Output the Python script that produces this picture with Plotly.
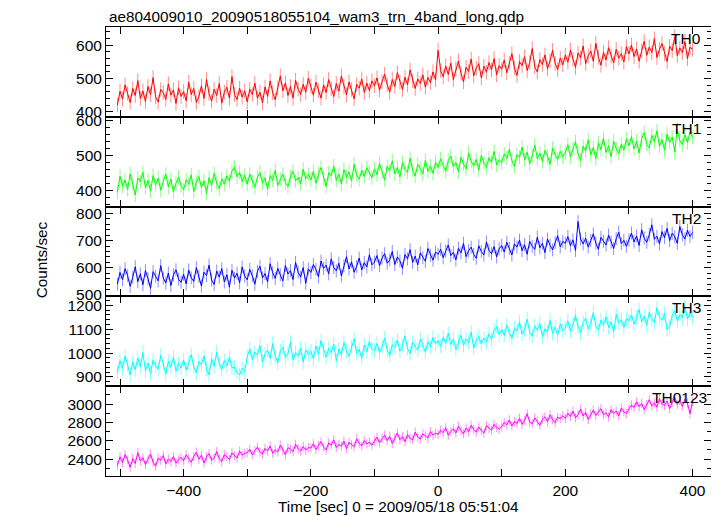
import numpy as np
import plotly.graph_objects as go
from plotly.subplots import make_subplots

# Time bins (seconds from 2009/05/18 05:51:04), 4 s bins
time_sec = np.arange(-504, 401, 4)

th0 = [420, 462, 438, 481, 455, 428, 470, 449, 494, 440, 463, 431, 476, 452, 503, 445, 429, 467, 458, 437, 484, 450, 466, 425, 472, 446,
       461, 433, 489, 452, 470, 428, 446, 478, 440, 497, 455, 432, 468, 449, 485, 426, 459, 474, 441, 506, 452, 437, 471, 444, 463,
       430, 468, 452, 486, 441, 459, 427, 475, 446, 493, 458, 436, 472, 508, 463, 487, 449, 476, 441, 495, 468, 452, 483, 459, 501,
       477, 450, 489, 463, 441, 481, 458, 497, 470, 446, 485, 462, 508, 475, 451, 490, 467, 439, 482, 471, 499, 458, 486, 464, 493,
       478, 502, 465, 491, 513, 482, 459, 497, 476, 518, 489, 467, 504, 481, 526, 493, 470, 499, 485, 511, 474, 503, 488, 520, 496,
       585, 524, 505, 538, 512, 546, 497, 529, 553, 516, 490, 534, 521, 559, 508, 531, 545, 502, 537, 519, 548, 526, 560, 511, 539,
       528, 556, 517, 547, 575, 532, 509, 551, 539, 566, 524, 548, 590, 535, 520, 557, 542, 571, 530, 553, 585, 546, 527, 562, 541,
       571, 549, 586, 558, 533, 577, 562, 598, 545, 569, 583, 552, 606, 564, 540, 579, 556, 593, 568, 547, 588, 561, 575, 550, 596,
       574, 601, 566, 589, 552, 583, 612, 570, 595, 578, 620, 563, 588, 605, 575, 551, 597, 584, 626, 569, 592, 578, 611, 560, 594,
       588]

th1 = [395, 441, 412, 430, 403, 448, 419, 387, 436, 425, 452, 408, 429, 398, 443, 417, 435, 401, 426, 447, 410, 433, 396, 421, 438, 414,
       402, 431, 418, 445, 397, 424, 440, 409, 428, 392, 437, 415, 449, 421, 405, 434, 418, 442, 427, 456, 468, 439, 452, 426, 444,
       418, 447, 425, 409, 438, 452, 421, 436, 404, 443, 429, 458, 415, 432, 447, 423, 411, 440, 455, 428, 437, 419, 461, 434, 446,
       430, 455, 421, 448, 466, 436, 412, 451, 442, 470, 429, 447, 419, 460, 438, 453, 427, 475, 444, 432, 458, 440, 465, 451, 437,
       462, 445, 478, 453, 430, 469, 457, 485, 448, 466, 439, 480, 461, 452, 492, 458, 441, 474, 463, 447, 487, 455, 470, 449, 481,
       466, 491, 472, 455, 486, 499, 468, 480, 453, 495, 476, 462, 507, 484, 470, 489, 458, 501, 479, 466, 494, 481, 512, 473, 488,
       480, 505, 492, 518, 486, 469, 503, 495, 524, 488, 510, 477, 499, 530, 491, 507, 483, 515, 498, 475, 521, 503, 489, 512, 496,
       508, 531, 496, 519, 540, 505, 486, 527, 514, 545, 502, 523, 491, 536, 517, 550, 509, 528, 497, 541, 520, 506, 533, 515, 548,
       528, 554, 519, 541, 507, 549, 566, 532, 522, 558, 540, 571, 527, 546, 515, 562, 538, 553, 510, 576, 543, 531, 560, 537, 568,
       552]

th2 = [540, 583, 556, 597, 571, 532, 565, 604, 549, 578, 538, 590, 560, 525, 586, 569, 552, 608, 563, 544, 581, 535, 574, 593, 558, 547,
       576, 541, 592, 563, 550, 601, 568, 533, 584, 572, 610, 555, 539, 588, 566, 597, 548, 575, 529, 591, 562, 580, 545, 603, 570,
       556, 594, 571, 540, 587, 606, 563, 579, 548, 615, 582, 561, 598, 574, 552, 609, 577, 590, 557, 620, 584, 566, 601, 543, 596,
       583, 612, 594, 567, 625, 598, 610, 578, 633, 601, 589, 617, 570, 608, 641, 596, 622, 584, 605, 636, 592, 619, 603, 648, 611,
       621, 645, 608, 636, 652, 617, 629, 660, 612, 640, 626, 598, 649, 633, 667, 620, 643, 611, 655, 637, 624, 671, 646, 628, 658,
       650, 668, 637, 661, 684, 645, 657, 629, 672, 655, 690, 641, 663, 676, 649, 635, 681, 660, 647, 695, 664, 652, 678, 640, 670,
       682, 658, 694, 671, 647, 688, 676, 702, 663, 685, 650, 697, 679, 668, 713, 674, 690, 656, 706, 683, 666, 692, 718, 677, 697,
       690, 715, 681, 703, 664, 770, 706, 688, 709, 676, 700, 725, 691, 668, 712, 698, 684, 720, 694, 671, 707, 731, 689, 701, 679,
       703, 728, 695, 717, 682, 740, 709, 694, 722, 758, 705, 716, 688, 733, 711, 745, 700, 727, 714, 690, 752, 721, 706, 738, 715,
       730]

th3 = [920, 968, 935, 987, 951, 908, 962, 930, 979, 943, 1002, 926, 958, 915, 972, 947, 932, 991, 955, 912, 966, 940, 983, 924, 957, 938,
       971, 929, 960, 994, 942, 917, 965, 951, 988, 934, 908, 976, 945, 1003, 958, 931, 969, 947, 982, 938, 941, 918, 909, 936, 921,
       985, 1018, 972, 1005, 991, 1032, 964, 997, 1012, 978, 1040, 988, 959, 1009, 1025, 981, 998, 1046, 970, 1003, 987, 1021, 962, 1014, 993,
       1008, 976, 1030, 995, 1052, 1012, 983, 1020, 1001, 1038, 968, 1017, 994, 1045, 1009, 987, 1026, 1060, 999, 1015, 978, 1033, 1006, 1049, 1019,
       1010, 1041, 1002, 1027, 1063, 1015, 990, 1036, 1024, 1055, 1008, 1032, 1071, 1019, 998, 1045, 1029, 1012, 1058, 1035, 1004, 1048, 1026, 1066, 1039,
       1052, 1028, 1067, 1041, 1083, 1036, 1058, 1014, 1049, 1075, 1032, 1060, 1044, 1089, 1021, 1054, 1070, 1038, 1063, 1046, 1081, 1057, 1096, 1112, 1078,
       1100, 1074, 1118, 1085, 1062, 1106, 1093, 1131, 1080, 1099, 1142, 1087, 1071, 1115, 1096, 1124, 1068, 1102, 1090, 1137, 1083, 1109, 1075, 1121, 1094,
       1105, 1134, 1092, 1120, 1158, 1111, 1086, 1128, 1147, 1101, 1123, 1170, 1114, 1097, 1139, 1118, 1152, 1107, 1131, 1089, 1162, 1125, 1140, 1108, 1145,
       1136, 1160, 1121, 1149, 1183, 1132, 1155, 1117, 1172, 1144, 1128, 1190, 1151, 1139, 1166, 1098, 1112, 1158, 1178, 1135, 1162, 1147, 1196, 1143, 1169,
       1150]

th0123 = [2330, 2425, 2362, 2448, 2391, 2310, 2406, 2352, 2470, 2378, 2415, 2340, 2398, 2455, 2367, 2322, 2410, 2386, 2439, 2348, 2401, 2372, 2428, 2355, 2393, 2418,
          2381, 2446, 2402, 2365, 2430, 2475, 2398, 2441, 2356, 2422, 2460, 2389, 2413, 2482, 2405, 2372, 2451, 2427, 2395, 2468, 2436, 2410, 2487, 2443, 2462,
          2470, 2508, 2445, 2492, 2530, 2478, 2455, 2517, 2488, 2542, 2463, 2501, 2476, 2553, 2495, 2448, 2524, 2507, 2480, 2561, 2512, 2489, 2536, 2498, 2527,
          2520, 2568, 2505, 2549, 2590, 2531, 2498, 2576, 2552, 2610, 2526, 2561, 2540, 2597, 2514, 2583, 2558, 2535, 2621, 2570, 2544, 2603, 2566, 2585, 2551,
          2596, 2640, 2578, 2625, 2662, 2601, 2648, 2570, 2633, 2686, 2612, 2645, 2590, 2668, 2627, 2610, 2695, 2642, 2618, 2675, 2655, 2630, 2700, 2661, 2683,
          2670, 2715, 2688, 2742, 2660, 2703, 2730, 2685, 2758, 2712, 2676, 2740, 2698, 2770, 2722, 2694, 2751, 2710, 2683, 2765, 2735, 2716, 2780, 2744, 2728,
          2752, 2800, 2773, 2828, 2761, 2810, 2790, 2845, 2779, 2822, 2896, 2803, 2786, 2850, 2815, 2768, 2835, 2862, 2808, 2883, 2829, 2797, 2858, 2840, 2874,
          2845, 2900, 2866, 2924, 2851, 2888, 2945, 2870, 2910, 2832, 2893, 2935, 2877, 2918, 2950, 2884, 2906, 2861, 2940, 2897, 2925, 2872, 2958, 2915, 2899,
          2948, 2990, 2963, 3025, 2972, 3008, 2940, 2995, 3048, 2980, 3015, 2966, 3060, 3002, 2985, 3035, 2950, 3020, 3072, 2998, 3040, 2975, 3055, 3012, 2895,
          3030]

band_names = ["TH0", "TH1", "TH2", "TH3", "TH0123"]
band_values = [th0, th1, th2, th3, th0123]
band_errors = [22, 20, 24, 30, 50]
y_ranges = [[385, 655], [354, 611], [495, 825], [861, 1238], [2215, 3196]]
y_major = [100, 100, 100, 100, 200]
y_minor = [20, 20, 20, 20, 100]

x_tickvals = [-500, -400, -300, -200, -100, 0, 100, 200, 300, 400]
x_ticktext = ["", "\u2212400", "", "\u2212200", "", "0", "", "200", "", "400"]

title_text = "ae804009010_20090518055104_wam3_trn_4band_long.qdp"
xlabel_text = "Time [sec] 0 = 2009/05/18 05:51:04"
ylabel_text = "Counts/sec"

colors = ["#ff0000", "#00ff00", "#0000ff", "#00ffff", "#ff00ff"]
err_colors = ["rgba(255,0,0,0.45)", "rgba(0,255,0,0.45)", "rgba(0,0,255,0.45)",
              "rgba(0,255,255,0.45)", "rgba(255,0,255,0.45)"]

FONT = "Liberation Sans, Arial, Helvetica, sans-serif"

fig = make_subplots(rows=5, cols=1, shared_xaxes=True, vertical_spacing=0)

for i in range(5):
    fig.add_trace(go.Scatter(
        x=time_sec, y=band_values[i], mode="lines",
        line=dict(color=colors[i], width=1),
        error_y=dict(type="constant", value=band_errors[i], color=err_colors[i],
                     thickness=1, width=0),
        showlegend=False, hoverinfo="skip"), row=i + 1, col=1)
    fig.update_yaxes(range=y_ranges[i], dtick=y_major[i], tick0=0,
                     minor=dict(ticks="inside", ticklen=4, dtick=y_minor[i],
                                tick0=0, tickcolor="black", showgrid=False),
                     row=i + 1, col=1)
    fig.add_annotation(text=band_names[i], xref="x domain", yref="y domain",
                       x=0.987, y=1, xanchor="right", yanchor="top", yshift=-1,
                       xshift=0 if i < 4 else 6,
                       showarrow=False, font=dict(size=15.5, color="black", family=FONT),
                       row=i + 1, col=1)

fig.update_xaxes(range=[-522, 429], tickvals=x_tickvals, ticktext=x_ticktext,
                 ticks="inside", ticklen=7, tickcolor="black",
                 showline=True, linecolor="black", linewidth=1, mirror="allticks",
                 showgrid=False, zeroline=False,
                 tickfont=dict(size=15.5, family=FONT, color="black"))
fig.update_yaxes(ticks="inside", ticklen=7, tickcolor="black",
                 showline=True, linecolor="black", linewidth=1, mirror="allticks",
                 showgrid=False, zeroline=False,
                 tickfont=dict(size=15.5, family=FONT, color="black"))

fig.add_annotation(text=title_text, xref="paper", yref="paper", x=0.002, y=1.023,
                   xanchor="left", yanchor="middle", showarrow=False,
                   font=dict(size=15.3, family=FONT, color="black"))
fig.add_annotation(text=xlabel_text, xref="paper", yref="paper", x=0.483, y=-0.069,
                   xanchor="center", yanchor="middle", showarrow=False,
                   font=dict(size=15.3, family=FONT, color="black"))
fig.add_annotation(text=ylabel_text, xref="paper", yref="paper", x=-0.107, y=0.481,
                   xanchor="center", yanchor="middle", textangle=-90, showarrow=False,
                   font=dict(size=15.3, family=FONT, color="black"))

# The page body adds an 8 px offset; the figure is sized so that the plot
# frame lands at the reference position in the 719x516 window.
fig.update_layout(width=711, height=508,
                  margin=dict(l=98, r=8, t=19, b=40),
                  plot_bgcolor="white", paper_bgcolor="white",
                  font=dict(family=FONT, size=15, color="black"))

fig.write_html("out.html")
